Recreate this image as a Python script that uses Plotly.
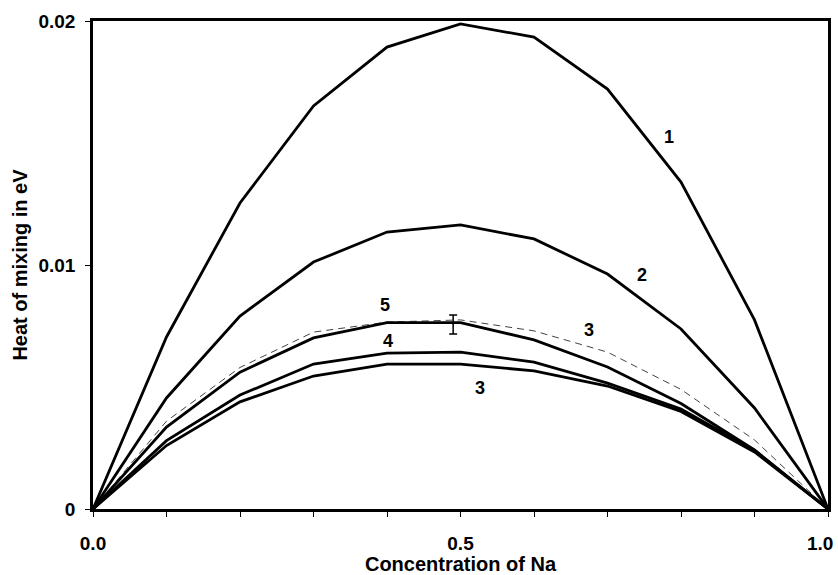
import plotly.graph_objects as go

# Concentration of Na
conc = [0.0, 0.1, 0.2, 0.3, 0.4, 0.5, 0.6, 0.7, 0.8, 0.9, 1.0]

# Heat of mixing (eV) for each curve
curve_1 = [0, 0.00705, 0.01254, 0.01652, 0.01893, 0.01988, 0.01934, 0.01721, 0.01340, 0.00775, 0]
curve_2 = [0, 0.00455, 0.00791, 0.01012, 0.01135, 0.01164, 0.01107, 0.00963, 0.00738, 0.00414, 0]
curve_5 = [0, 0.00336, 0.00561, 0.00701, 0.00764, 0.00764, 0.00693, 0.00582, 0.00432, 0.00242, 0]
curve_4 = [0, 0.00280, 0.00467, 0.00594, 0.00639, 0.00643, 0.00602, 0.00516, 0.00410, 0.00240, 0]
curve_3 = [0, 0.00260, 0.00439, 0.00545, 0.00594, 0.00594, 0.00566, 0.00504, 0.00400, 0.00234, 0]
curve_3_dashed = [0, 0.00360, 0.00580, 0.00725, 0.00766, 0.00775, 0.00730, 0.00643, 0.00490, 0.00283, 0]

# Error bar point
err_x = [0.49]
err_y = [0.00756]
err_size = [0.00039]

# Curve labels
label_text = ["1", "2", "5", "4", "3", "3"]
label_x = [0.784, 0.747, 0.397, 0.401, 0.527, 0.675]
label_y = [0.01525, 0.00959, 0.00836, 0.00689, 0.00496, 0.00734]

# Tick labels
x_tickvals = [0, 0.5, 1.0]
x_ticktext = ["0.0", "0.5", "1.0"]
y_tickvals = [0, 0.01, 0.02]
y_ticktext = ["0", "0.01", "0.02"]

FONT = "Arial, 'Liberation Sans', sans-serif"

fig = go.Figure()

fig.add_trace(go.Scatter(x=conc, y=curve_3_dashed, mode="lines",
                         line=dict(color="#444444", width=1, dash="7px,5px")))
for ys in [curve_1, curve_2, curve_5, curve_4, curve_3]:
    fig.add_trace(go.Scatter(x=conc, y=ys, mode="lines",
                             line=dict(color="black", width=2.8)))

fig.add_trace(go.Scatter(x=err_x, y=err_y, mode="markers",
                         marker=dict(size=1, color="black"),
                         error_y=dict(type="data", array=err_size, visible=True,
                                      color="black", thickness=1.5, width=4)))

for t, lx, ly in zip(label_text, label_x, label_y):
    fig.add_annotation(x=lx, y=ly, text="<b>" + t + "</b>", showarrow=False,
                       font=dict(family=FONT, size=18, color="black"))

# last x tick label nudged left (with trailing spaces) so it stays inside the page
x_ticktext_fmt = ["<b>" + t + "</b>" for t in x_ticktext]
x_ticktext_fmt[-1] = x_ticktext_fmt[-1] + "&nbsp;&nbsp;&nbsp;"

fig.update_layout(
    width=838, height=575,
    margin=dict(l=93, r=10, t=21, b=66, autoexpand=False),
    paper_bgcolor="white", plot_bgcolor="white",
    showlegend=False,
    font=dict(family=FONT, size=19, color="black"),
)

fig.update_xaxes(
    range=[0, 1], tickvals=x_tickvals,
    ticktext=x_ticktext_fmt,
    ticks="outside", ticklen=5, tickwidth=1, tickcolor="black",
    minor=dict(dtick=0.1, ticks="outside", ticklen=5, tickcolor="black", tickwidth=1),
    showgrid=False, zeroline=False, automargin=False,
    showline=True, linecolor="black", linewidth=2.5, mirror=True,
    ticklabelstandoff=10, ticklabeloverflow="allow",
    tickfont=dict(family=FONT, size=19),
    title=dict(text="<b>Concentration of Na</b>", standoff=2,
               font=dict(family=FONT, size=20)),
)

fig.update_yaxes(
    range=[0, 0.02], tickvals=y_tickvals,
    ticktext=["<b>" + t + "</b>" for t in y_ticktext],
    ticks="outside", ticklen=5, tickwidth=1, tickcolor="black",
    showgrid=False, zeroline=False, automargin=False,
    showline=True, linecolor="black", linewidth=2.5, mirror=True,
    ticklabelstandoff=6, ticklabeloverflow="allow",
    tickfont=dict(family=FONT, size=19),
    title=dict(text="<b>Heat of mixing in eV</b>", standoff=6,
               font=dict(family=FONT, size=20)),
)

fig.write_html("out.html",
               config={"displayModeBar": False},
               post_script="document.body.style.margin='0px';document.body.style.overflow='hidden';")
